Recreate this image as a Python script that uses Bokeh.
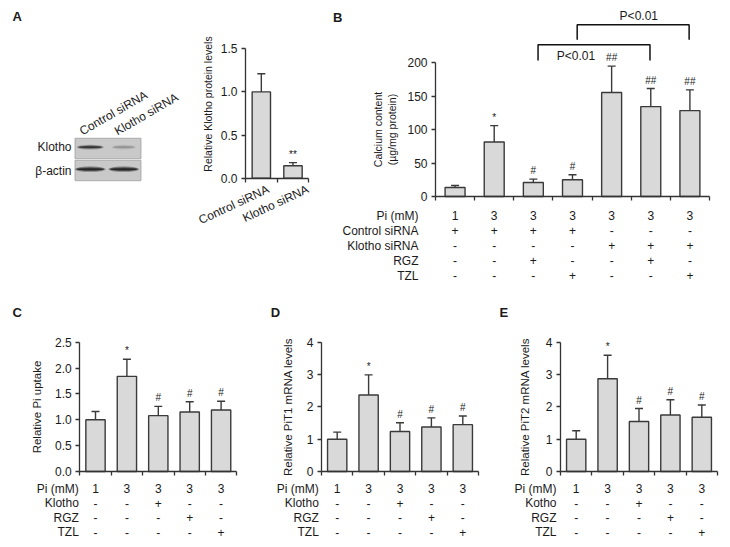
import math
from bokeh.plotting import figure
from bokeh.models import (ColumnDataSource, Range1d, LinearAxis, FixedTicker,
                          Whisker, TeeHead, NumeralTickFormatter)
from bokeh.layouts import row, column
from bokeh.embed import file_html
from bokeh.resources import INLINE
from bokeh.core.properties import value

FONT = "Liberation Sans"
INK = "#1a1a1a"
AXIS = "#333333"
BAR_FILL = "#d9d9d9"
BAR_LINE = "#3a3a3a"
TXT = "12px"

# ---------------- data ----------------
# Panel A: western blot
lanes = ["Control siRNA", "Klotho siRNA"]
blot_rows = ["β-actin", "Klotho"]          # bottom to top
klotho_band = [0.85, 0.22]                 # relative band intensity
actin_band = [1.0, 1.0]

# Panel A: quantification
a_labels = ["Control siRNA", "Klotho siRNA"]
a_mean = [1.0, 0.145]
a_err = [0.21, 0.035]
a_sig = ["", "**"]
a_ticks = [0.0, 0.5, 1.0, 1.5]

# Panel B: calcium content
b_mean = [13.5, 81.5, 21.0, 25.0, 155.5, 134.5, 128.5]
b_err = [3.0, 24.5, 5.0, 7.5, 39.5, 27.0, 31.0]
b_sig = ["", "*", "#", "#", "##", "##", "##"]
b_ticks = [0, 50, 100, 150, 200]
b_row_names = ["Pi (mM)", "Control siRNA", "Klotho siRNA", "RGZ", "TZL"]
b_pi = ["1", "3", "3", "3", "3", "3", "3"]
b_ctrl = ["+", "+", "+", "+", "-", "-", "-"]
b_klotho = ["-", "-", "-", "-", "+", "+", "+"]
b_rgz = ["-", "-", "+", "-", "-", "+", "-"]
b_tzl = ["-", "-", "-", "+", "-", "-", "+"]
b_compare = [(3, 6), (4, 7)]
b_p_text = ["P<0.01", "P<0.01"]

# Panels C, D, E
cde_pi = ["1", "3", "3", "3", "3"]
cde_klotho = ["-", "-", "+", "-", "-"]
cde_rgz = ["-", "-", "-", "+", "-"]
cde_tzl = ["-", "-", "-", "-", "+"]
cde_sig = ["", "*", "#", "#", "#"]

c_mean = [1.0, 1.84, 1.08, 1.15, 1.19]
c_err = [0.16, 0.33, 0.18, 0.20, 0.17]
c_ticks = [0.0, 0.5, 1.0, 1.5, 2.0, 2.5]
c_row_names = ["Pi (mM)", "Klotho", "RGZ", "TZL"]

d_mean = [1.0, 2.37, 1.24, 1.38, 1.45]
d_err = [0.22, 0.62, 0.27, 0.28, 0.27]
d_ticks = [0, 1, 2, 3, 4]
d_row_names = ["Pi (mM)", "Klotho", "RGZ", "TZL"]

e_mean = [1.0, 2.87, 1.55, 1.75, 1.68]
e_err = [0.26, 0.73, 0.40, 0.47, 0.38]
e_ticks = [0, 1, 2, 3, 4]
e_row_names = ["Pi (mM)", "Kotho", "RGZ", "TZL"]


# ---------------- helpers ----------------
def panel_fig(ox, oy, w, h, x0px, ux, y0px, uy):
    """Figure whose frame fills the whole canvas; data origin sits at (x0px, y0px) on the page."""
    xr = ((ox - x0px) / ux, (ox + w - x0px) / ux)
    yr = ((y0px - (oy + h)) / uy, (y0px - oy) / uy)
    p = figure(width=w, height=h, min_border_left=0, min_border_right=0,
               min_border_top=0, min_border_bottom=0,
               x_range=Range1d(*xr), y_range=Range1d(*yr),
               x_axis_type=None, y_axis_type=None,
               output_backend="svg", toolbar_location=None)
    p.outline_line_color = None
    p.background_fill_color = "white"
    p.border_fill_color = "white"

    def X(px):
        return (px - x0px) / ux

    def Y(py):
        return (y0px - py) / uy
    return p, X, Y


def put_text(p, xs, ys, texts, size=TXT, align="center", baseline="middle",
             bold=False, angle=0.0, color=INK):
    src = ColumnDataSource(dict(x=list(xs), y=list(ys), text=list(texts)))
    p.text(x="x", y="y", text="text", source=src, text_font=value(FONT),
           text_font_size=value(size), text_color=color, text_align=align,
           text_baseline=baseline, text_font_style="bold" if bold else "normal",
           angle=angle)


def style_axis(ax, label_size="11.5px"):
    ax.axis_line_color = AXIS
    ax.axis_line_width = 1.3
    ax.major_tick_line_color = AXIS
    ax.major_tick_line_width = 1.3
    ax.major_tick_in = 0
    ax.major_tick_out = 4
    ax.minor_tick_line_color = None
    ax.major_label_text_font = FONT
    ax.major_label_text_font_size = TXT
    ax.major_label_text_color = INK
    ax.major_label_standoff = 4
    ax.axis_label_text_font = FONT
    ax.axis_label_text_font_style = "normal"
    ax.axis_label_text_font_size = label_size
    ax.axis_label_text_color = INK


def bar_panel(box, x0px, ux, y0px, uy, n, axis_top, ticks, fmt, means, errs, sigs,
              ylabel, standoff, bar_w, ylabel_size="11.5px"):
    p, X, Y = panel_fig(*box, x0px, ux, y0px, uy)
    xs = [i + 0.5 for i in range(n)]
    ups = [m + e for m, e in zip(means, errs)]
    src = ColumnDataSource(dict(x=xs, top=means, up=ups))
    p.vbar(x="x", top="top", bottom=0, width=bar_w, source=src,
           fill_color=BAR_FILL, line_color=BAR_LINE, line_width=1.4)
    p.add_layout(Whisker(source=src, base="x", upper="up", lower="top", dimension="height",
                         line_color=BAR_LINE, line_width=1.4,
                         upper_head=TeeHead(size=8, line_color=BAR_LINE, line_width=1.4),
                         lower_head=None))
    put_text(p, xs, [u + 3.0 / uy for u in ups], sigs, size="10px", baseline="bottom")
    yax = LinearAxis(ticker=FixedTicker(ticks=ticks), bounds=(0, axis_top),
                     formatter=NumeralTickFormatter(format=fmt), axis_label=ylabel,
                     axis_label_standoff=standoff, fixed_location=0)
    style_axis(yax, ylabel_size)
    p.add_layout(yax, "left")
    xax = LinearAxis(ticker=FixedTicker(ticks=list(range(n + 1))), bounds=(0, n),
                     major_label_overrides={i: "" for i in range(n + 1)}, fixed_location=0)
    style_axis(xax)
    p.add_layout(xax, "below")
    return p, xs, X, Y


def table(p, xs, X, Y, row_names, rows, row_ys, name_x):
    for name, vals, ry in zip(row_names, rows, row_ys):
        put_text(p, xs, [Y(ry)] * len(xs), vals)
    put_text(p, [X(name_x)] * len(row_names), [Y(ry) for ry in row_ys], row_names, align="right")


# ---------------- Panel A: blot ----------------
f1, X1, Y1 = panel_fig(0, 0, 190, 290, 74, 33.5, 181, 22.0)
nrow = len(blot_rows)
f1.rect(x=[1.0] * nrow, y=[i + 0.5 for i in range(nrow)], width=1.97, height=0.93,
        fill_color="#c9c9c9", line_color="#a0a0a0", line_width=0.8)
band_x = [i + 0.47 for i in range(len(lanes))]
for inten_list, row_idx, bw, bh in [(actin_band, 0, 0.92, 0.26), (klotho_band, 1, 0.82, 0.22)]:
    for wf, hf, a in [(1.0, 1.0, 0.30), (0.92, 0.65, 0.45), (0.85, 0.35, 0.7)]:
        bsrc = ColumnDataSource(dict(
            x=band_x, y=[row_idx + 0.56] * len(lanes),
            w=[bw * wf * (0.85 + 0.15 * v) for v in inten_list],
            a=[a * v for v in inten_list]))
        f1.ellipse(x="x", y="y", width="w", height=bh * hf, source=bsrc,
                   fill_color="#111111", fill_alpha="a", line_color=None)
put_text(f1, [X1(80), X1(115)], [Y1(131.5)] * 2, lanes, size="12px",
         align="left", baseline="alphabetic", angle=math.radians(30))
put_text(f1, [X1(71)] * nrow, [Y1(170), Y1(146.5)], blot_rows, size="12px", align="right")
put_text(f1, [X1(16.7)], [Y1(16.2)], ["A"], size="13px", bold=True)

# ---------------- Panel A: bars ----------------
f2, xs2, X2, Y2 = bar_panel((190, 0, 140, 290), 245, 31.65, 177.7, 86.3, 2, 1.5, a_ticks,
                            "0.0", a_mean, a_err, a_sig, "", 6, 0.58)
put_text(f2, [X2(207.5)], [Y2(103.5)], ["Relative Klotho protein levels"], size="10.5px",
         angle=math.pi / 2)
a_lab_dx = [4.0, 12.0]   # pixel shift of each rotated label end
put_text(f2, [x + dx / 31.65 for x, dx in zip(xs2, a_lab_dx)], [Y2(181.7)] * 2, a_labels,
         align="right", baseline="top", angle=math.radians(25))

# ---------------- Panel B ----------------
f3, xs3, X3, Y3 = bar_panel((330, 0, 399, 290), 435, 39.14, 196, 0.6685, 7, 200, b_ticks,
                            "0", b_mean, b_err, b_sig, "Calcium content\n(µg/mg protein)",
                            6, 0.51, ylabel_size="10.5px")
put_text(f3, [X3(337.3)], [Y3(16.5)], ["B"], size="13px", bold=True)
table(f3, xs3, X3, Y3, b_row_names, [b_pi, b_ctrl, b_klotho, b_rgz, b_tzl],
      [215, 230, 245, 260, 275], 418)
br_levels = [(44.3, 60.0, 55.7, 575.5), (24.3, 39.3, 15.7, 638.3)]
for (a, bb), ptxt, (top_py, leg_py, t_py, t_px) in zip(b_compare, b_p_text, br_levels):
    xa = a - 0.5 + 0.12
    xb = bb - 0.5 - 0.02
    f3.line(x=[xa, xa, xb, xb], y=[Y3(leg_py), Y3(top_py), Y3(top_py), Y3(leg_py)],
            line_color="#111111", line_width=1.5)
    put_text(f3, [X3(t_px)], [Y3(t_py)], [ptxt])

# ---------------- Panels C, D, E ----------------
row_ys = [488.3, 502.7, 517.3, 531.7]
cde_rows = [cde_pi, cde_klotho, cde_rgz, cde_tzl]

g4, xs4, X4, Y4 = bar_panel((0, 290, 255, 256), 79.3, 31.4, 471, 51.7, 5, 2.5, c_ticks,
                            "0.0", c_mean, c_err, cde_sig, "Relative Pi uptake", 9, 0.615)
put_text(g4, [X4(16.7)], [Y4(311.7)], ["C"], size="13px", bold=True)
table(g4, xs4, X4, Y4, c_row_names, cde_rows, row_ys, 78.3)

g5, xs5, X5, Y5 = bar_panel((255, 290, 238, 256), 321, 31.4, 471, 32.3, 5, 4, d_ticks,
                            "0", d_mean, d_err, cde_sig, "Relative PiT1 mRNA levels", 10, 0.615)
put_text(g5, [X5(275)], [Y5(311.7)], ["D"], size="13px", bold=True)
table(g5, xs5, X5, Y5, d_row_names, cde_rows, row_ys, 318.3)

g6, xs6, X6, Y6 = bar_panel((493, 290, 236, 256), 560, 31.4, 471, 32.3, 5, 4, e_ticks,
                            "0", e_mean, e_err, cde_sig, "Relative PiT2 mRNA levels", 12, 0.615)
put_text(g6, [X6(503.3)], [Y6(311.7)], ["E"], size="13px", bold=True)
table(g6, xs6, X6, Y6, e_row_names, cde_rows, row_ys, 556)

layout = column(row(f1, f2, f3), row(g4, g5, g6))
open("out.html", "w").write(file_html(layout, INLINE, title="Klotho figure"))
